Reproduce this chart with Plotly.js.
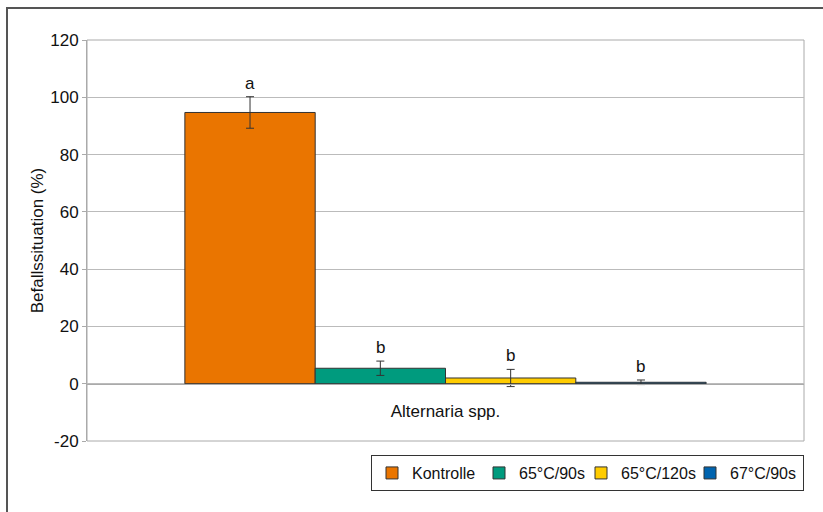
<!DOCTYPE html>
<html><head><meta charset="utf-8">
<script src="https://cdn.plot.ly/plotly-3.0.1.min.js"></script>
<style>
body{margin:0;padding:0;background:#fff;}
#frame{position:absolute;left:6px;top:7px;width:830px;height:520px;border:2px solid #555;box-sizing:border-box;}
#chart{position:absolute;left:0;top:0;width:823px;height:512px;}
</style></head>
<body><div id="frame"></div><div id="chart"></div>
<script>
const category = ["Alternaria spp."];
const seriesNames = ["Kontrolle", "65°C/90s", "65°C/120s", "67°C/90s"];
const seriesValues = [94.7, 5.4, 2.0, 0.5];
const seriesErrors = [5.5, 2.5, 3.0, 0.8];
const sigLetters = ["a", "b", "b", "b"];
const colors = ["#EA7500", "#009B7E", "#FFCC00", "#0064AF"];
const yTicks = [-20, 0, 20, 40, 60, 80, 100, 120];
const yTickLabels = ["-20", "0", "20", "40", "60", "80", "100", "120"];
const legendWidths = [62, 57, 64, 68];

const bargap = 0.273;
const traces = seriesNames.map((n, i) => ({
  type: "bar", name: n, x: category, y: [seriesValues[i]],
  legendwidth: legendWidths[i],
  marker: {color: colors[i], line: {color: "#333", width: 1}},
  error_y: {type: "data", array: [seriesErrors[i]], visible: true, color: "#333", thickness: 1, width: 4}
}));
const bw = (1 - bargap) / seriesNames.length;
const annotations = seriesNames.map((n, i) => ({
  x: -0.5 + bargap / 2 + bw * (i + 0.5), y: seriesValues[i] + seriesErrors[i],
  xref: "x", yref: "y", text: sigLetters[i], showarrow: false,
  yanchor: "bottom", yshift: 2, font: {size: 17, color: "#111"}
}));
const layout = {
  width: 823, height: 512,
  paper_bgcolor: "rgba(0,0,0,0)", plot_bgcolor: "#fff",
  margin: {l: 87, r: 19, t: 40, b: 71},
  font: {family: "Liberation Sans, Arial, sans-serif", size: 17, color: "#111"},
  barmode: "group", bargap: bargap, bargroupgap: 0,
  showlegend: true,
  legend: {orientation: "h", x: 1.0, xanchor: "right", y: -0.035, yanchor: "top",
    bordercolor: "#333", borderwidth: 1, bgcolor: "#fff", font: {size: 16, color: "#111"},
    traceorder: "normal", itemwidth: 30},
  xaxis: {type: "category", range: [-0.5, 0.5], anchor: "free", position: 20/140,
    showline: true, linecolor: "#aaa", linewidth: 1, ticks: "", showgrid: false,
    tickfont: {size: 17, color: "#111"}, ticklabelstandoff: 12},
  yaxis: {range: [-20, 120], tickmode: "array", tickvals: yTicks, ticktext: yTickLabels,
    showgrid: true, gridcolor: "#bbb", gridwidth: 1,
    zeroline: false, showline: true, linecolor: "#aaa", ticks: "outside", ticklen: 4, tickcolor: "#aaa",
    tickfont: {size: 17, color: "#111"},
    title: {text: "Befallssituation (%)", font: {size: 17, color: "#111"}, standoff: 2}},
  shapes: [{type: "rect", xref: "paper", yref: "paper", x0: 0, x1: 1, y0: 0, y1: 1,
    line: {color: "#aaa", width: 1}, layer: "below"}],
  annotations: annotations
};
Plotly.newPlot("chart", traces, layout, {displayModeBar: false});
</script></body></html>
